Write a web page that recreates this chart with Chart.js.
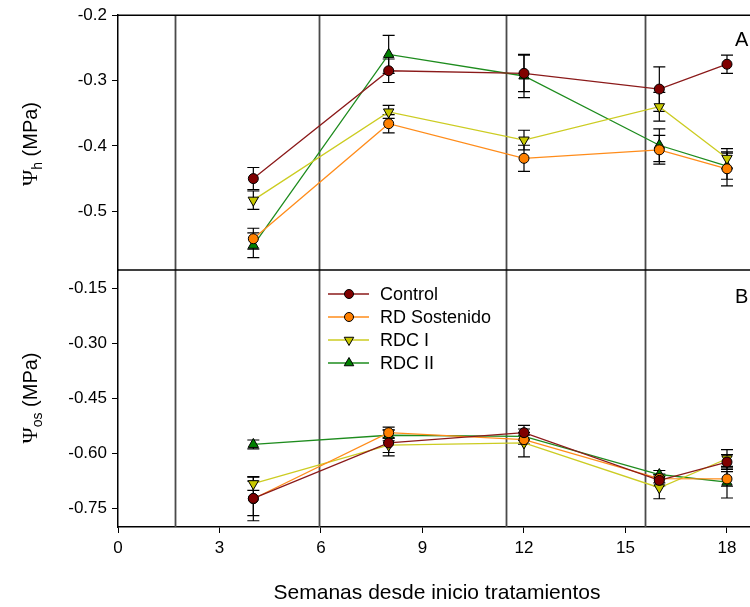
<!DOCTYPE html>
<html>
<head>
<meta charset="utf-8">
<script src="https://cdn.jsdelivr.net/npm/chart.js@4.4.0/dist/chart.umd.min.js"></script>
<style>
  html, body { margin: 0; padding: 0; background: #fff; }
  #chartContainer { display: block; }
</style>
</head>
<body>
<canvas id="chartContainer" width="750" height="607"></canvas>
<script>
// Weeks since start of treatments
const weeks = [4, 8, 12, 16, 18];
const seriesNames = ['Control', 'RD Sostenido', 'RDC I', 'RDC II'];

// Panel A - Psi h (MPa), means and errors
const psiHControl = [-0.450, -0.285, -0.289, -0.313, -0.275];
const psiHControlErr = [0.017, 0.018, 0.028, 0.034, 0.014];
const psiHSostenido = [-0.542, -0.366, -0.419, -0.406, -0.435];
const psiHSostenidoErr = [0.016, 0.014, 0.020, 0.022, 0.026];
const psiHRdc1 = [-0.483, -0.348, -0.391, -0.340, -0.419];
const psiHRdc1Err = [0.014, 0.010, 0.015, 0.022, 0.015];
const psiHRdc2 = [-0.552, -0.260, -0.293, -0.399, -0.431];
const psiHRdc2Err = [0.019, 0.029, 0.033, 0.025, 0.020];

// Panel B - Psi os (MPa), means and errors
const psiOsControl = [-0.722, -0.571, -0.543, -0.673, -0.623];
const psiOsControlErr = [0.047, 0.035, 0.020, 0.015, 0.020];
const psiOsSostenido = [-0.723, -0.543, -0.562, -0.668, -0.669];
const psiOsSostenidoErr = [0.060, 0.015, 0.012, 0.012, 0.020];
const psiOsRdc1 = [-0.682, -0.577, -0.571, -0.693, -0.614];
const psiOsRdc1Err = [0.018, 0.020, 0.038, 0.030, 0.025];
const psiOsRdc2 = [-0.575, -0.550, -0.553, -0.657, -0.678];
const psiOsRdc2Err = [0.012, 0.015, 0.010, 0.011, 0.043];

// Axis ticks and vertical separators
const xTicks = [0, 3, 6, 9, 12, 15, 18];
const yTicksA = [-0.5, -0.4, -0.3, -0.2];
const yTicksB = [-0.75, -0.60, -0.45, -0.30, -0.15];
const separatorWeeks = [1.68, 5.94, 11.48, 15.58];

const lineColors = ['#8b1a1a', '#ff8c1a', '#cccc22', '#1e8c1e'];
const markerColors = ['#800000', '#ff8000', '#c8c800', '#008000'];
const markerStyles = ['circle', 'circle', 'triangle', 'triangle'];
const markerRotation = [0, 0, 180, 0];
const markerRadius = [5, 5, 6, 6];

function toPoints(values) {
    return values.map((v, i) => ({ x: weeks[i], y: v }));
}

function makeDataset(idx, values, errors, axisId) {
    return {
        label: seriesNames[idx],
        data: toPoints(values),
        errors: errors,
        yAxisID: axisId,
        borderColor: lineColors[idx],
        borderWidth: 1.3,
        backgroundColor: markerColors[idx],
        pointBackgroundColor: markerColors[idx],
        pointBorderColor: '#000',
        pointBorderWidth: 1,
        pointStyle: markerStyles[idx],
        pointRotation: markerRotation[idx],
        pointRadius: markerRadius[idx],
        tension: 0
    };
}

// Error bars drawn under the lines and markers
const errorBars = {
    id: 'errorBars',
    beforeDatasetsDraw(chart) {
        const ctx = chart.ctx;
        const xs = chart.scales.x;
        ctx.save();
        ctx.strokeStyle = '#000';
        ctx.lineWidth = 1.2;
        chart.data.datasets.forEach(ds => {
            const ys = chart.scales[ds.yAxisID];
            ds.data.forEach((p, i) => {
                const e = ds.errors[i];
                const px = xs.getPixelForValue(p.x);
                const y1 = ys.getPixelForValue(p.y + e);
                const y2 = ys.getPixelForValue(p.y - e);
                ctx.beginPath();
                ctx.moveTo(px, y1); ctx.lineTo(px, y2);
                ctx.moveTo(px - 6, y1); ctx.lineTo(px + 6, y1);
                ctx.moveTo(px - 6, y2); ctx.lineTo(px + 6, y2);
                ctx.stroke();
            });
        });
        ctx.restore();
    }
};

// Frame lines, vertical separators
const frameLines = {
    id: 'frameLines',
    beforeDatasetsDraw(chart) {
        const ctx = chart.ctx;
        const area = chart.chartArea;
        const xs = chart.scales.x;
        ctx.save();
        ctx.strokeStyle = '#4a4a4a';
        ctx.lineWidth = 1.8;
        separatorWeeks.forEach(w => {
            const px = Math.round(xs.getPixelForValue(w)) + 0.5;
            ctx.beginPath();
            ctx.moveTo(px, area.top);
            ctx.lineTo(px, area.bottom);
            ctx.stroke();
        });
        ctx.strokeStyle = '#000';
        ctx.lineWidth = 1.5;
        const divider = chart.scales.yA.bottom;
        ctx.beginPath();
        ctx.moveTo(area.left, area.top);
        ctx.lineTo(area.right, area.top);
        ctx.moveTo(area.left, divider);
        ctx.lineTo(area.right, divider);
        ctx.stroke();
        ctx.restore();
    }
};

function drawPsiLabel(ctx, cx, cy, sub) {
    ctx.save();
    ctx.translate(cx, cy);
    ctx.rotate(-Math.PI / 2);
    ctx.fillStyle = '#000';
    ctx.textBaseline = 'alphabetic';
    const psiFont = '22px "Liberation Serif"';
    const subFont = '14px "Liberation Sans"';
    const mainFont = '20px "Liberation Sans"';
    ctx.font = psiFont;
    const w1 = ctx.measureText('\u03A8').width;
    ctx.font = subFont;
    const w2 = ctx.measureText(sub).width;
    ctx.font = mainFont;
    const w3 = ctx.measureText(' (MPa)').width;
    let x = -(w1 + w2 + w3) / 2;
    const base = 7;
    ctx.font = psiFont;
    ctx.fillText('\u03A8', x, base);
    x += w1;
    ctx.font = subFont;
    ctx.fillText(sub, x, base + 5);
    x += w2;
    ctx.font = mainFont;
    ctx.fillText(' (MPa)', x, base);
    ctx.restore();
}

// Titles, panel letters and legend
const annotations = {
    id: 'annotations',
    afterDraw(chart) {
        const ctx = chart.ctx;
        ctx.save();
        drawPsiLabel(ctx, 30, 144, 'h');
        drawPsiLabel(ctx, 30, 398, 'os');

        ctx.fillStyle = '#000';
        ctx.font = '21px "Liberation Sans"';
        ctx.textAlign = 'center';
        ctx.textBaseline = 'middle';
        ctx.fillText('Semanas desde inicio tratamientos', 437, 593);

        ctx.textAlign = 'left';
        ctx.font = '20px "Liberation Sans"';
        ctx.fillText('A', 735, 40);
        ctx.fillText('B', 735, 297);

        // legend
        const rowY = [294, 317, 340, 363];
        ctx.font = '18px "Liberation Sans"';
        seriesNames.forEach((name, i) => {
            const y = rowY[i];
            ctx.strokeStyle = lineColors[i];
            ctx.lineWidth = 1.5;
            ctx.beginPath();
            ctx.moveTo(328, y);
            ctx.lineTo(369, y);
            ctx.stroke();
            ctx.fillStyle = markerColors[i];
            ctx.strokeStyle = '#000';
            ctx.lineWidth = 1;
            Chart.helpers.drawPoint(ctx, {
                pointStyle: markerStyles[i],
                rotation: markerRotation[i],
                radius: markerStyles[i] === 'circle' ? 4.5 : 5.5,
                borderWidth: 1
            }, 349, y);
            ctx.fillStyle = '#000';
            ctx.fillText(name, 380, y + 1);
        });
        ctx.restore();
    }
};

const tickFont = { family: '"Liberation Sans", Arial, sans-serif', size: 17 };

const ctx = document.getElementById('chartContainer').getContext('2d');
new Chart(ctx, {
    type: 'line',
    data: {
        datasets: [
            makeDataset(0, psiHControl, psiHControlErr, 'yA'),
            makeDataset(1, psiHSostenido, psiHSostenidoErr, 'yA'),
            makeDataset(2, psiHRdc1, psiHRdc1Err, 'yA'),
            makeDataset(3, psiHRdc2, psiHRdc2Err, 'yA'),
            makeDataset(0, psiOsControl, psiOsControlErr, 'yB'),
            makeDataset(1, psiOsSostenido, psiOsSostenidoErr, 'yB'),
            makeDataset(2, psiOsRdc1, psiOsRdc1Err, 'yB'),
            makeDataset(3, psiOsRdc2, psiOsRdc2Err, 'yB')
        ]
    },
    options: {
        responsive: false,
        animation: false,
        devicePixelRatio: 1,
        layout: { autoPadding: false, padding: { top: 15, left: 0, right: 0, bottom: 0 } },
        plugins: {
            legend: { display: false },
            tooltip: { enabled: false }
        },
        scales: {
            x: {
                type: 'linear',
                min: 0,
                max: 18.68,
                afterBuildTicks: s => { s.ticks = xTicks.map(v => ({ value: v })); },
                afterFit: s => { s.height = 80; s.paddingRight = 0; s.paddingLeft = 0; },
                grid: { drawOnChartArea: false, drawTicks: true, tickLength: 6, color: '#000' },
                border: { display: true, color: '#000', width: 1.5 },
                ticks: { color: '#000', font: tickFont, padding: 5, maxRotation: 0 }
            },
            yB: {
                type: 'linear',
                position: 'left',
                stack: 'panels',
                stackWeight: 257,
                min: -0.8,
                max: -0.1,
                afterBuildTicks: s => { s.ticks = yTicksB.map(v => ({ value: v })); },
                afterFit: s => { s.width = 118; },
                grid: { drawOnChartArea: false, drawTicks: true, tickLength: 6, color: '#000' },
                border: { display: true, color: '#000', width: 1.5 },
                ticks: { color: '#000', font: tickFont, padding: 5, callback: v => v.toFixed(2) }
            },
            yA: {
                type: 'linear',
                position: 'left',
                stack: 'panels',
                stackWeight: 255,
                min: -0.59,
                max: -0.2,
                afterBuildTicks: s => { s.ticks = yTicksA.map(v => ({ value: v })); },
                afterFit: s => { s.width = 118; },
                grid: { drawOnChartArea: false, drawTicks: true, tickLength: 6, color: '#000' },
                border: { display: true, color: '#000', width: 1.5 },
                ticks: { color: '#000', font: tickFont, padding: 5, callback: v => v.toFixed(1) }
            }
        }
    },
    plugins: [frameLines, errorBars, annotations]
});
</script>
</body>
</html>
